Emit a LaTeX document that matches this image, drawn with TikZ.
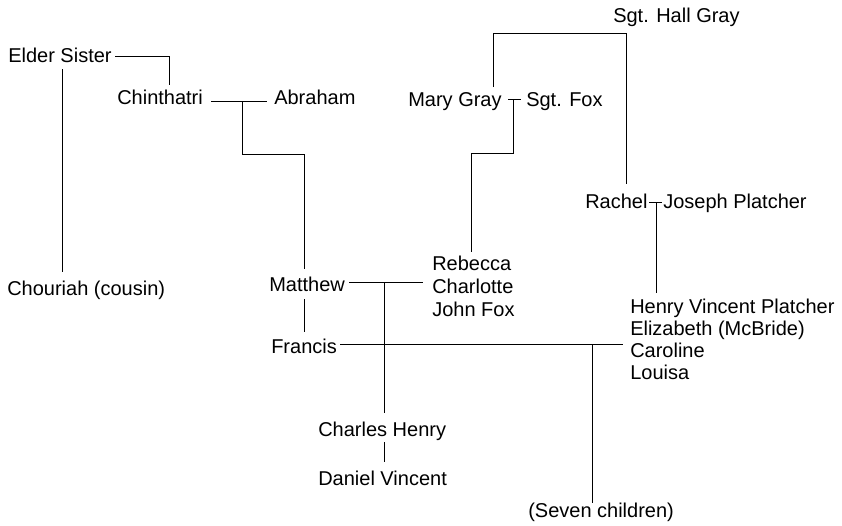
\documentclass[tikz,border=0pt]{standalone}
\usepackage{fontspec}
\setmainfont{Liberation Sans}
\begin{document}
\begin{tikzpicture}[x=0.75pt,y=-0.75pt,
  person/.style={inner sep=0pt, anchor=base west, font=\fontsize{15}{17}\selectfont},
  group/.style={person, align=left},
  link/.style={line width=0.75pt, line cap=butt}]
\useasboundingbox (0,0) rectangle (842,525);
% people (multi-line groups are anchored at the baseline of their last line)
\node[person] (es)  at (8,62)    {Elder Sister};
\node[person] (ch)  at (117,104) {Chinthatri};
\node[person] (ab)  at (274,104) {Abraham};
\node[person] (co)  at (7,295)   {Chouriah (cousin)};
\node[person] (hg)  at (613,22)  {Sgt. Hall Gray};
\node[person] (mg)  at (408,106) {Mary Gray};
\node[person] (fox) at (526,106) {Sgt. Fox};
\node[person] (ra)  at (585,208) {Rachel};
\node[person] (jp)  at (663,208) {Joseph Platcher};
\node[person] (ma)  at (269,291) {Matthew};
\node[group]  (rcj) at (432,316) {Rebecca\\Charlotte\\John Fox};
\node[person] (fr)  at (271,353) {Francis};
\node[group, font=\fontsize{15}{16.5}\selectfont] (hv) at (630,379)
  {Henry Vincent Platcher\\Elizabeth (McBride)\\Caroline\\Louisa};
\node[person] (chh) at (318,436) {Charles Henry};
\node[person] (dv)  at (318,485) {Daniel Vincent};
\node[person] (sc)  at (528,517) {(Seven children)};
% connector points
\coordinate (esR) at (115,56);
\coordinate (esC) at (169,56);
\coordinate (chT) at (169,85);
\coordinate (esB) at (62,69);
\coordinate (coT) at (62,272);
\coordinate (chR) at (211,101);
\coordinate (abL) at (267,101);
\coordinate (m1)  at (242,101);
\coordinate (m1b) at (242,154);
\coordinate (maT) at (304,269);
\coordinate (mgT) at (493,87);
\coordinate (hgL) at (493,33);
\coordinate (hgR) at (626,33);
\coordinate (raT) at (626,184);
\coordinate (mgR) at (508,99);
\coordinate (foxL) at (521,99);
\coordinate (m2)  at (513,99);
\coordinate (m2b) at (513,153);
\coordinate (rcjT) at (471,252);
\coordinate (raR) at (649,202);
\coordinate (jpL) at (662,202);
\coordinate (m3)  at (656,202);
\coordinate (hvT) at (656,293);
\coordinate (maR) at (349,282);
\coordinate (rcjL) at (423,282);
\coordinate (m4)  at (384,282);
\coordinate (chhT) at (384,413);
\coordinate (maB) at (304,299);
\coordinate (frT) at (304,332);
\coordinate (frR) at (340,344);
\coordinate (hvL) at (623,344);
\coordinate (m5)  at (592,344);
\coordinate (scT) at (592,503);
\coordinate (chhB) at (384,442);
\coordinate (dvT) at (384,462);
% connectors
\draw[link] (esR) -- (esC) -- (chT);
\draw[link] (esB) -- (coT);
\draw[link] (chR) -- (abL);
\draw[link] (m1) -- (m1b) -| (maT);
\draw[link] (mgT) -- (hgL) -- (hgR) -- (raT);
\draw[link] (mgR) -- (foxL);
\draw[link] (m2) -- (m2b) -| (rcjT);
\draw[link] (raR) -- (jpL);
\draw[link] (m3) -- (hvT);
\draw[link] (maR) -- (rcjL);
\draw[link] (m4) -- (chhT);
\draw[link] (maB) -- (frT);
\draw[link] (frR) -- (hvL);
\draw[link] (m5) -- (scT);
\draw[link] (chhB) -- (dvT);
\end{tikzpicture}
\end{document}
